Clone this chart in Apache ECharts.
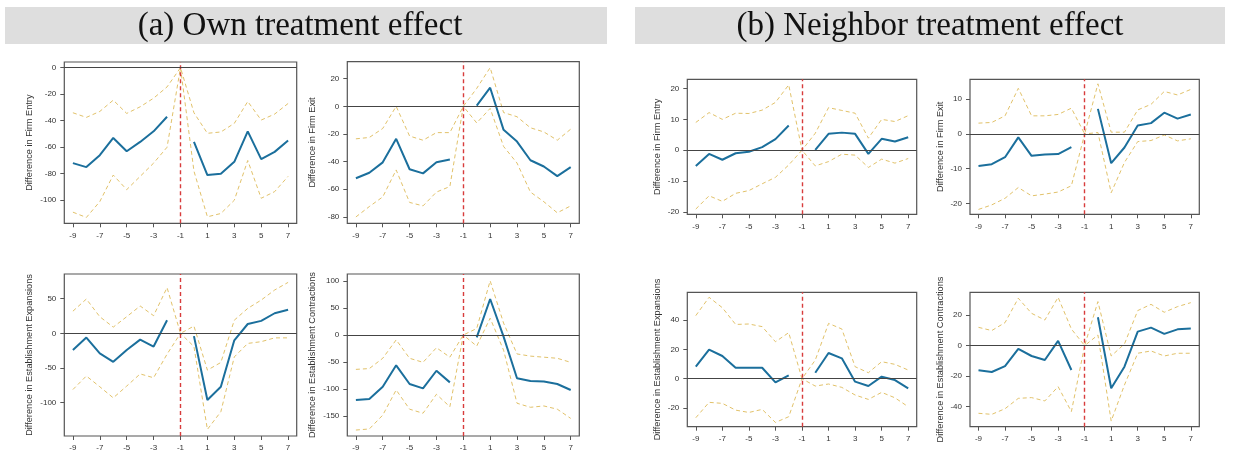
<!DOCTYPE html>
<html>
<head>
<meta charset="utf-8">
<script src="https://cdn.jsdelivr.net/npm/echarts@6/dist/echarts.min.js"></script>
<style>
  html, body { margin: 0; padding: 0; background: #ffffff; }
  #chart { width: 1233px; height: 452px; }
</style>
</head>
<body>
<div id="chart"></div>
<script>
// Event time relative to treatment; -1 is the reference period.
const periods = [-9, -8, -7, -6, -5, -4, -3, -2, -1, 0, 1, 2, 3, 4, 5, 6, 7];
const xTicks = [-9, -7, -5, -3, -1, 1, 3, 5, 7];
const treatPeriod = -1;

// (a) Own treatment effect: estimate, upper and lower confidence bounds
const ownEntryEst = [-72, -75, -66, -53, -63, -56, -48, -37, null, -56, -81, -80, -71, -48, -69, -63.5, -55];
const ownEntryHi  = [-34, -37.5, -33, -24.5, -34.5, -29.5, -23, -14.5, 0, -34, -49.5, -48.5, -42, -25.5, -39.5, -35, -27];
const ownEntryLo  = [-109, -113, -101, -81, -92, -82, -72, -60, 0, -78, -112.5, -110, -100, -70, -98.5, -93.5, -82];

const ownExitEst = [-52, -48, -40.5, -23.5, -45.5, -48.5, -40.5, -38.5, null, 0.5, 13.5, -17, -25.5, -39, -43.5, -50.5, -44];
const ownExitHi  = [-23.5, -22.5, -16, 0, -21.5, -24.5, -19, -19, 0, 13, 28, -4.5, -7.5, -15.5, -18.5, -24.5, -16.5];
const ownExitLo  = [-80, -72.5, -65.5, -46, -69.5, -72, -62, -58, 0, -12, -1.5, -29, -41, -62, -69, -77, -72];

const ownExpEst = [-24, -6, -29, -41, -24, -9, -19, 19, null, -4, -96, -77, -10, 13.5, 18, 29, 34];
const ownExpHi  = [32, 49.5, 24, 9, 24, 39.5, 25.5, 66, 0, 10.5, -53, -42, 19, 36, 48, 62.5, 73.5];
const ownExpLo  = [-81, -61.5, -77, -93, -76, -58.5, -64, -30, 0, -19, -138.5, -113, -34, -14.5, -12, -6.5, -6.5];

const ownConEst = [-120, -118, -95.5, -56, -90.5, -98.5, -66, -87.5, null, -4.5, 66.5, -3, -80, -85, -86, -90.5, -101.5];
const ownConHi  = [-63.5, -62, -43, -9, -43, -50.5, -23.5, -41, 0, 12, 100, 22, -35, -39, -41, -43, -50.5];
const ownConLo  = [-175.5, -173.5, -148, -101.5, -137, -144.5, -109.5, -132.5, 0, -20.5, 31, -28, -126, -133.5, -131, -137, -154];

// (b) Neighbor treatment effect
const nbrEntryEst = [-5.1, -1.2, -3.1, -1, -0.5, 1, 3.6, 8, null, 0.1, 5.3, 5.7, 5.3, -1.2, 3.7, 2.8, 4.2];
const nbrEntryHi  = [9, 12.2, 10, 12, 11.9, 13, 15.5, 21.2, 0, 5.5, 13.8, 12.9, 12, 3.9, 10, 9.3, 11.2];
const nbrEntryLo  = [-19.1, -14.8, -16.6, -14, -13.1, -10.9, -8.8, -4.8, 0, -5.1, -3.7, -1.3, -1.6, -5.6, -2.9, -4.2, -2.7];

const nbrExitEst = [-9.2, -8.7, -6.7, -1, -6.3, -5.9, -5.8, -3.8, null, 7.2, -8.4, -3.9, 2.4, 3.1, 6.1, 4.4, 5.6];
const nbrExitHi  = [3.1, 3.3, 5.2, 13.1, 5.2, 5.2, 5.6, 7.4, 0, 14.4, 0.5, 0.5, 6.9, 8.5, 12.2, 11.2, 12.8];
const nbrExitLo  = [-21.7, -20.4, -18.5, -15.4, -17.8, -17.3, -16.7, -14.9, 0, 0.4, -16.9, -8.2, -2.2, -1.9, -0.3, -2, -1.4];

const nbrExpEst = [8.2, 19.8, 15.5, 7.5, 7.5, 7.5, -2.5, 2.3, null, 4.1, 17.5, 13.9, -2, -5, 1.4, -0.9, -6.6];
const nbrExpHi  = [43, 55.5, 48.4, 37, 37.3, 35.5, 25.2, 31.4, 0, 12.7, 37.7, 33.9, 8.2, 4.1, 11.6, 9.8, 5.9];
const nbrExpLo  = [-26.6, -16.1, -16.8, -21.4, -23, -20.9, -29.8, -25.9, 0, -5, -3.6, -5.9, -11.1, -14.1, -9.3, -13, -19.1];

const nbrConEst = [-16.2, -17.3, -13.4, -2.2, -6.8, -9.4, 3.1, -16, null, 18.6, -28, -13.8, 9.2, 11.8, 7.7, 10.7, 11.2];
const nbrConHi  = [12, 9.9, 15.1, 31.1, 21.2, 16.8, 31.7, 10.9, 0, 28.9, -6.8, 1.1, 23, 27.1, 21.9, 25.6, 28.2];
const nbrConLo  = [-44.4, -45.1, -41.4, -34.6, -34.1, -36.3, -26.9, -43.3, 0, 7, -49.5, -25.8, -5, -3.5, -6.8, -5, -5];

// Y-axis tick labels of each panel
const ownEntryTicks = [0, -20, -40, -60, -80, -100];
const ownExitTicks  = [20, 0, -20, -40, -60, -80];
const ownExpTicks   = [50, 0, -50, -100];
const ownConTicks   = [100, 50, 0, -50, -100, -150];
const nbrEntryTicks = [20, 10, 0, -10, -20];
const nbrExitTicks  = [10, 0, -10, -20];
const nbrExpTicks   = [40, 20, 0, -20];
const nbrConTicks   = [20, 0, -20, -40];

const panelTitles = ['(a) Own treatment effect', '(b) Neighbor treatment effect'];

// Panels: series data, axis title, value range and plot box
const panels = [
  { est: ownEntryEst, hi: ownEntryHi, lo: ownEntryLo, ticks: ownEntryTicks, name: 'Difference in Firm Entry',
    yMin: -117.4, yMax: 4.3, box: [64.3, 62, 232.4, 161.3], gap: 30 },
  { est: ownExitEst, hi: ownExitHi, lo: ownExitLo, ticks: ownExitTicks, name: 'Difference in Firm Exit',
    yMin: -84.6, yMax: 32.3, box: [347.3, 61.7, 232, 161.6], gap: 30 },
  { est: ownExpEst, hi: ownExpHi, lo: ownExpLo, ticks: ownExpTicks, name: 'Difference in Establishment Expansions',
    yMin: -148, yMax: 85.6, box: [64.3, 274, 232.4, 162], gap: 30 },
  { est: ownConEst, hi: ownConHi, lo: ownConLo, ticks: ownConTicks, name: 'Difference in Establishment Contractions',
    yMin: -186.5, yMax: 112.6, box: [347.3, 274, 232, 162], gap: 30 },
  { est: nbrEntryEst, hi: nbrEntryHi, lo: nbrEntryLo, ticks: nbrEntryTicks, name: 'Difference in Firm Entry',
    yMin: -20.8, yMax: 23.0, box: [687.3, 79.3, 229.4, 135], gap: 25 },
  { est: nbrExitEst, hi: nbrExitHi, lo: nbrExitLo, ticks: nbrExitTicks, name: 'Difference in Firm Exit',
    yMin: -23.1, yMax: 15.7, box: [970, 79.3, 229.3, 135], gap: 25 },
  { est: nbrExpEst, hi: nbrExpHi, lo: nbrExpLo, ticks: nbrExpTicks, name: 'Difference in Establishment Expansions',
    yMin: -32.7, yMax: 58.9, box: [687.3, 292.3, 229.4, 134.4], gap: 25 },
  { est: nbrConEst, hi: nbrConHi, lo: nbrConLo, ticks: nbrConTicks, name: 'Difference in Establishment Contractions',
    yMin: -53.2, yMax: 35, box: [970, 292.3, 229.3, 134.4], gap: 25 }
];

const BLUE = '#1b6f9c';
const GOLD = '#e2c26a';
const RED = '#d83c3c';
const FRAME = '#555555';
const TEXT = '#333333';
const SANS = 'Liberation Sans, Arial, sans-serif';

const pairs = arr => periods.map((p, i) => [p, arr[i]]);

const grids = [], xAxes = [], yAxes = [], series = [];
panels.forEach((pn, k) => {
  grids.push({
    left: pn.box[0], top: pn.box[1], width: pn.box[2], height: pn.box[3],
    show: true, borderColor: FRAME, borderWidth: 1.2, backgroundColor: 'transparent'
  });
  xAxes.push({
    type: 'value', gridIndex: k, min: -9.64, max: 7.64, position: 'bottom',
    axisLine: { show: false, onZero: false },
    splitLine: { show: false },
    axisPointer: { show: false },
    axisTick: { show: true, inside: false, length: 4, customValues: xTicks, lineStyle: { color: FRAME, width: 1 } },
    axisLabel: { customValues: xTicks, margin: 8, fontSize: 8, color: TEXT, fontFamily: SANS }
  });
  yAxes.push({
    type: 'value', gridIndex: k, min: pn.yMin, max: pn.yMax, position: 'left',
    name: pn.name, nameLocation: 'middle', nameRotate: 90, nameGap: pn.gap,
    nameTextStyle: { fontSize: 9.2, color: TEXT, fontFamily: SANS },
    axisLine: { show: false, onZero: false },
    splitLine: { show: false },
    axisPointer: { show: false },
    axisTick: { show: true, inside: false, length: 4, customValues: pn.ticks, lineStyle: { color: FRAME, width: 1 } },
    axisLabel: { customValues: pn.ticks, margin: 8, fontSize: 8, color: TEXT, fontFamily: SANS }
  });
  // upper bound, carrying the zero reference line
  series.push({
    type: 'line', xAxisIndex: k, yAxisIndex: k, data: pairs(pn.hi),
    symbol: 'none', silent: true, z: 2,
    lineStyle: { color: GOLD, width: 1, type: [4, 3] },
    markLine: {
      silent: true, symbol: 'none', label: { show: false }, animation: false,
      data: [{ yAxis: 0, lineStyle: { color: '#444444', width: 1.2, type: 'solid' } }]
    }
  });
  // lower bound
  series.push({
    type: 'line', xAxisIndex: k, yAxisIndex: k, data: pairs(pn.lo),
    symbol: 'none', silent: true, z: 2,
    lineStyle: { color: GOLD, width: 1, type: [4, 3] }
  });
  // point estimate, carrying the treatment-period marker
  series.push({
    type: 'line', xAxisIndex: k, yAxisIndex: k, data: pairs(pn.est),
    symbol: 'none', connectNulls: false, silent: true, z: 4,
    lineStyle: { color: BLUE, width: 2 },
    markLine: {
      silent: true, symbol: 'none', label: { show: false }, animation: false, z: 3,
      data: [{ xAxis: treatPeriod, lineStyle: { color: RED, width: 1.4, type: [4, 3], opacity: 1 } }]
    }
  });
});

const chart = echarts.init(document.getElementById('chart'), null, { renderer: 'canvas' });
chart.setOption({
  animation: false,
  backgroundColor: '#ffffff',
  graphic: [
    { type: 'rect', left: 5, top: 7, shape: { width: 602, height: 37 }, style: { fill: '#dedede' }, z: -10 },
    { type: 'rect', left: 635, top: 7, shape: { width: 590, height: 37 }, style: { fill: '#dedede' }, z: -10 },
    { type: 'text', x: 300, y: 26, style: { text: panelTitles[0], fontFamily: 'Liberation Serif, Times New Roman, serif',
      fontSize: 33, fill: '#111111', align: 'center', verticalAlign: 'middle' } },
    { type: 'text', x: 930, y: 26, style: { text: panelTitles[1], fontFamily: 'Liberation Serif, Times New Roman, serif',
      fontSize: 33, fill: '#111111', align: 'center', verticalAlign: 'middle' } }
  ],
  grid: grids,
  xAxis: xAxes,
  yAxis: yAxes,
  series: series
});
</script>
</body>
</html>
